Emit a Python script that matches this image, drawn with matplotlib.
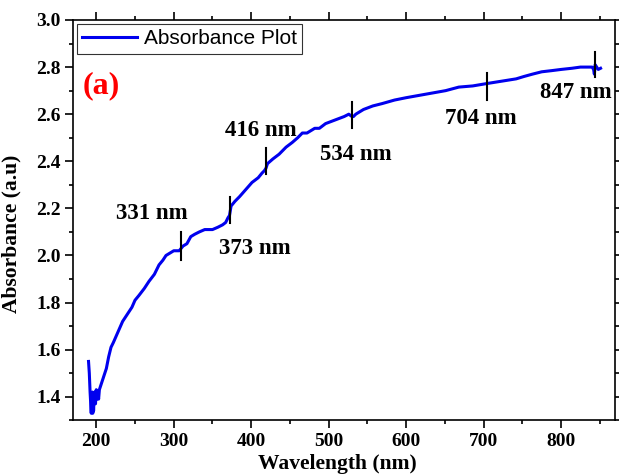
import matplotlib
matplotlib.use("Agg")
import matplotlib.pyplot as plt
from matplotlib.ticker import MultipleLocator, FormatStrFormatter

# absorbance curve
wavelength = [190, 191, 192, 193, 193.5, 194, 194.5, 195, 195.5, 196, 196.5, 197, 198, 199, 200, 201, 202,
              203, 204, 206, 209, 213, 216, 219, 222, 226, 230, 234, 240, 246, 250, 255, 262, 268, 275,
              281, 286, 290, 295, 300, 307, 312, 317, 322, 327, 333, 340, 345, 350, 357, 363, 367, 370,
              372, 373.5, 374, 379, 385, 393, 401, 409, 414, 417, 419, 421, 428, 436, 445, 453, 460, 466,
              472, 477, 482, 488, 496, 504, 512, 520, 526, 530, 532, 535, 545, 557, 569, 585, 600, 617,
              634, 651, 668, 686, 704, 723, 742, 752, 763, 775, 788, 800, 814, 825, 836, 840, 842, 843,
              844, 846, 848, 851]
absorbance = [1.55, 1.50, 1.42, 1.36, 1.33, 1.40, 1.34, 1.42, 1.33, 1.41, 1.34, 1.38, 1.42, 1.37, 1.43,
              1.39, 1.42, 1.39, 1.43, 1.45, 1.48, 1.52, 1.57, 1.61, 1.63, 1.66, 1.69, 1.72, 1.75, 1.78,
              1.81, 1.83, 1.86, 1.89, 1.92, 1.96, 1.98, 2.00, 2.01, 2.02, 2.02, 2.04, 2.05, 2.08, 2.09,
              2.10, 2.11, 2.11, 2.11, 2.12, 2.13, 2.14, 2.16, 2.17, 2.20, 2.21, 2.23, 2.25, 2.28, 2.31,
              2.33, 2.35, 2.36, 2.37, 2.39, 2.41, 2.43, 2.46, 2.48, 2.50, 2.52, 2.52, 2.53, 2.54, 2.54,
              2.56, 2.57, 2.58, 2.59, 2.60, 2.59, 2.59, 2.60, 2.62, 2.635, 2.645, 2.66, 2.67, 2.68,
              2.69, 2.70, 2.715, 2.72, 2.73, 2.74, 2.75, 2.76, 2.77, 2.78, 2.785, 2.79, 2.795, 2.80,
              2.80, 2.80, 2.79, 2.77, 2.81, 2.80, 2.79, 2.795]

# marker bars and their labels
peak_x = [309, 373, 419, 530, 704, 844]
peak_lo = [1.98, 2.14, 2.345, 2.54, 2.66, 2.76]
peak_hi = [2.10, 2.25, 2.455, 2.65, 2.775, 2.865]
peak_labels = ["331 nm", "373 nm", "416 nm", "534 nm", "704 nm", "847 nm"]
label_x = [272, 405, 412, 535, 697, 819]
label_y = [2.18, 2.03, 2.53, 2.43, 2.58, 2.69]

serif = "Liberation Serif"

fig = plt.figure(figsize=(6.19, 4.76), dpi=100)
ax = fig.add_axes([0.118, 0.117, 0.876, 0.841])

ax.plot(wavelength, absorbance, color="#0000ee", lw=2.2, label="Absorbance Plot")

for x, lo, hi in zip(peak_x, peak_lo, peak_hi):
    ax.plot([x, x], [lo, hi], color="black", lw=1.5)
for x, y, t in zip(label_x, label_y, peak_labels):
    ax.text(x, y, t, ha="center", va="center", fontsize=16.5, fontweight="bold", family=serif)

ax.text(207, 2.72, "(a)", color="red", ha="center", va="center", fontsize=23,
        fontweight="bold", family=serif)

ax.set_xlim(170, 870)
ax.set_ylim(1.3, 3.0)
ax.xaxis.set_major_locator(MultipleLocator(100))
ax.xaxis.set_minor_locator(MultipleLocator(50))
ax.yaxis.set_major_locator(MultipleLocator(0.2))
ax.yaxis.set_minor_locator(MultipleLocator(0.1))
ax.yaxis.set_major_formatter(FormatStrFormatter("%.1f"))
ax.tick_params(which="both", direction="out", top=True, right=True, width=1.2)
ax.tick_params(which="major", length=6, labelsize=14, pad=3)
ax.tick_params(which="minor", length=3)
for lab in ax.get_xticklabels() + ax.get_yticklabels():
    lab.set_fontfamily(serif)
    lab.set_fontweight("bold")
for s in ax.spines.values():
    s.set_linewidth(1.2)

ax.set_xlabel("Wavelength (nm)", fontsize=15.5, fontweight="bold", family=serif)
ax.set_ylabel("Absorbance (a.u)", fontsize=15.5, fontweight="bold", family=serif)
ax.xaxis.set_label_coords(0.487, -0.085)
ax.yaxis.set_label_coords(-0.095, 0.466)

leg = ax.legend(loc="upper left", prop={"family": "Liberation Sans", "size": 15},
                fancybox=False, edgecolor="black", borderpad=0.25, borderaxespad=0.2,
                handlelength=2.6, handletextpad=0.35)
leg.get_frame().set_linewidth(0.8)

fig.savefig("out.png", dpi=100)
